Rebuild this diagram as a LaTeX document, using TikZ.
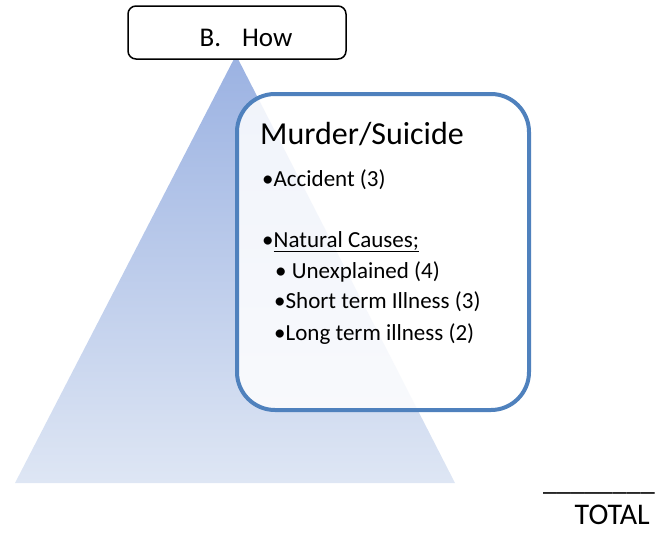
\documentclass[tikz,border=0pt]{standalone}
\usepackage{fontspec}
\setmainfont{Carlito}
\usetikzlibrary{positioning}
\definecolor{causeblue}{RGB}{79,129,189}
\definecolor{pyrtop}{RGB}{155,178,226}
\definecolor{pyrbottom}{RGB}{222,230,244}

\begin{document}
\begin{tikzpicture}[x=1pt, y=-1pt, every node/.style={inner sep=0pt},
    item/.style={anchor=base west, font=\fontsize{23}{27}\selectfont}]
    \useasboundingbox (0,0) rectangle (655,533);
    % pyramid behind the boxes
    \shade[top color=pyrtop, bottom color=pyrbottom] (236,55) -- (455,483) -- (15,483) -- cycle;

    \node[draw, rounded corners=8pt, line width=1.5pt, fill=white, minimum width=218pt, minimum height=53pt, text height=27pt, text depth=0pt, font=\fontsize{27}{32}\selectfont] (how) at (237,32.5) {\hspace*{18pt}B.\hspace{21pt}How};
    \node[draw=causeblue, line width=4pt, rounded corners=38pt, fill=white, fill opacity=0.85, minimum width=292pt, minimum height=316pt] (causes) at (383,252) {};

    \node[anchor=base west, font=\fontsize{32}{38}\selectfont] (title) at (260,144) {Murder/Suicide};
    \node[item] (accident) at (262,186) {\textbullet Accident (3)};
    \node[item] (natural) at (262,247) {\textbullet\underline{Natural Causes;}};
    \node[item] (unexplained) at (275,278) {\textbullet\ Unexplained (4)};
    \node[item] (shortterm) at (274,308) {\textbullet Short term Illness (3)};
    \node[item] (longterm) at (274,340) {\textbullet Long term illness (2)};

    \node[anchor=base west, font=\fontsize{28}{33}\selectfont] (blank) at (543,490) {\_\_\_\_\_\_\_\_};
    \node[anchor=base east, font=\fontsize{30}{36}\selectfont] (total) at (650,524) {TOTAL};
\end{tikzpicture}
\end{document}
